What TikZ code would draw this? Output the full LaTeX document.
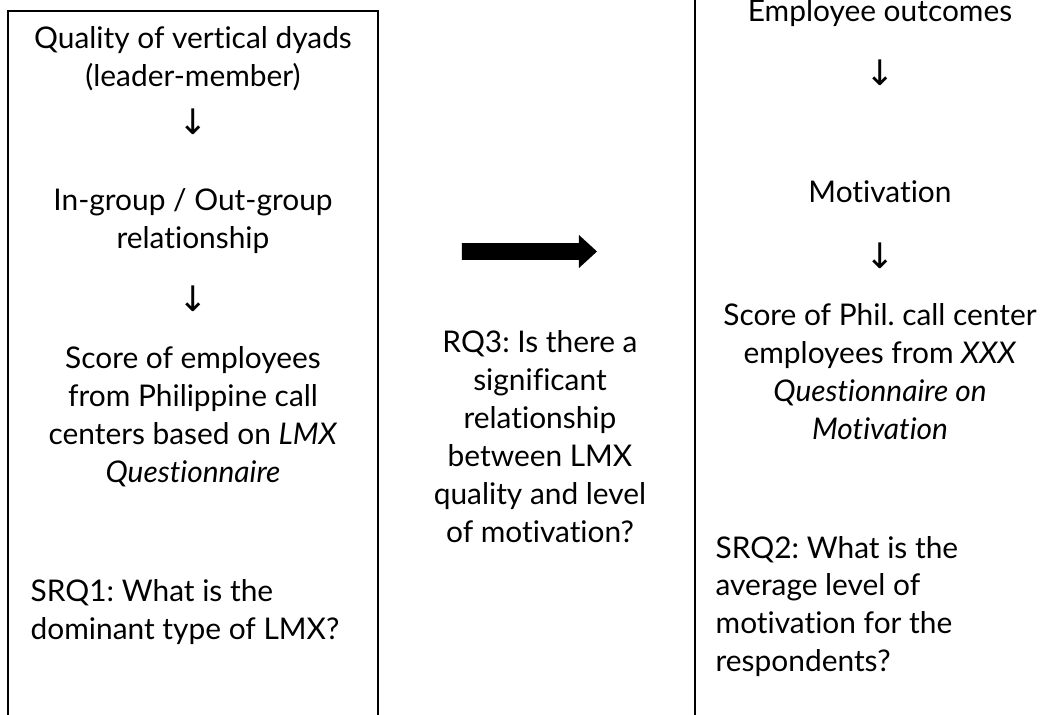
\documentclass[tikz,border=0pt]{standalone}
\usepackage{fontspec}
\setmainfont{Lato}[Ligatures=NoCommon]
\newfontfamily\arrowfont{DejaVu Sans}
\frenchspacing
\tikzset{
  boxtext/.style={align=center, inner sep=0pt, font=\fontsize{8.5}{10.8}\selectfont},
  sidetext/.style={align=left, anchor=west, inner sep=0pt, font=\fontsize{8.5}{10.8}\selectfont},
  downarrow/.style={inner sep=0pt, font=\arrowfont\fontsize{10}{11}\selectfont}
}
\begin{document}
\begin{tikzpicture}[line width=0.4pt]
	\useasboundingbox (0,0) rectangle (10.55,7.15);
	\clip (0,0) rectangle (10.55,7.15);

	% Draw the two boxes
	\draw (0.08,7.04) rectangle (3.78,-0.3);
	\draw (6.95,7.5) rectangle (10.8,-0.3);

	% Left box: LMX
	\draw (1.93,6.56) node[boxtext] (dyads) {Quality of vertical dyads\\(leader-member)};
	\draw (1.93,5.93) node[downarrow] (downA) {↓};
	\draw (1.93,4.94) node[boxtext] (groups) {In-group / Out-group\\relationship};
	\draw (1.93,4.16) node[downarrow] (downB) {↓};
	\draw (1.93,2.98) node[boxtext] (lmxscore) {Score of employees\\from Philippine call\\centers based on \textit{LMX}\\\textit{Questionnaire}};
	\draw (0.30,1.03) node[sidetext] (srqone) {SRQ1: What is the\\dominant type of LMX?};

	% Middle: the big arrow and RQ3
	\fill (4.62,4.72) -- (5.79,4.72) -- (5.79,4.80) -- (5.97,4.635)
	      -- (5.79,4.47) -- (5.79,4.55) -- (4.62,4.55) -- cycle;
	\draw (5.40,2.78) node[boxtext] (rqthree) {RQ3: Is there a\\significant\\relationship\\between LMX\\quality and level\\of motivation?};

	% Right box: outcomes
	\draw (8.80,7.02) node[boxtext] (outcomes) {Employee outcomes};
	\draw (8.80,6.42) node[downarrow] (downC) {↓};
	\draw (8.80,5.23) node[boxtext] (motiv) {Motivation};
	\draw (8.80,4.59) node[downarrow] (downD) {↓};
	\draw (8.80,3.435) node[boxtext] (motscore) {Score of Phil. call center\\employees from \textit{XXX}\\\textit{Questionnaire on}\\\textit{Motivation}};
	\draw (7.15,1.085) node[sidetext] (srqtwo) {SRQ2: What is the\\average level of\\motivation for the\\respondents?};
\end{tikzpicture}
\end{document}
